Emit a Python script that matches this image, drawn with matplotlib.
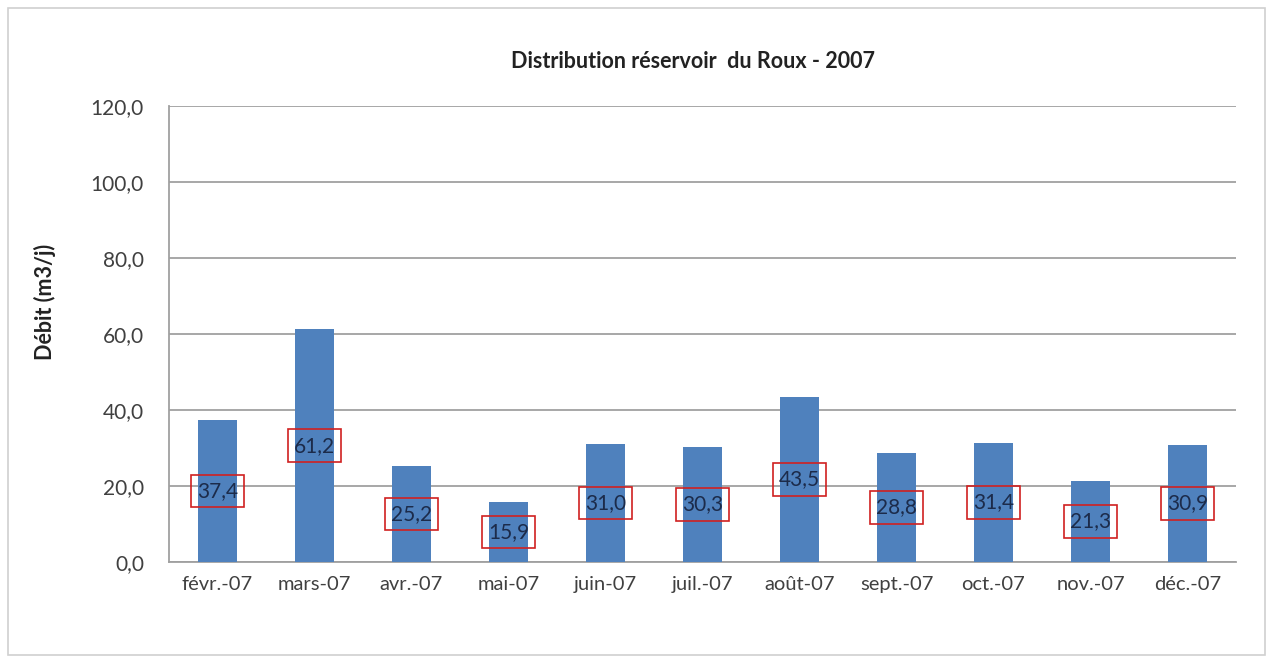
#!/usr/bin/env python3

import matplotlib.pyplot as plt
from matplotlib.patches import Rectangle


MONTHS = ["févr.-07", "mars-07", "avr.-07", "mai-07", "juin-07", "juil.-07",
          "août-07", "sept.-07", "oct.-07", "nov.-07", "déc.-07"]
DEBIT = [37.4, 61.2, 25.2, 15.9, 31.0, 30.3, 43.5, 28.8, 31.4, 21.3, 30.9]
Y_TICKS = [0, 20, 40, 60, 80, 100, 120]

TITLE = "Distribution réservoir  du Roux - 2007"
Y_LABEL = "Débit (m3/j)"


def fmt(v):
    return f"{v:.1f}".replace(".", ",")


def main():
    plt.rcParams["font.family"] = ["Lato", "DejaVu Sans"]

    fig = plt.figure(figsize=(12.71, 6.59), dpi=100)
    fig.patches.append(Rectangle((8 / 1271, 4 / 659), 1257 / 1271, 647 / 659,
                                 transform=fig.transFigure, fill=False,
                                 edgecolor="#d0d0d0", linewidth=1.2))

    ax = fig.add_axes([169 / 1271, 97 / 659, 1067 / 1271, 456 / 659])
    x = list(range(len(MONTHS)))
    ax.bar(x, DEBIT, width=0.4, color="#4f81bd", zorder=3)

    for i, v in zip(x, DEBIT):
        ax.text(i, v / 2, fmt(v), ha="center", va="center", fontsize=15,
                color="#1c2b4a", zorder=4,
                bbox=dict(boxstyle="square,pad=0.3", fill=False,
                          edgecolor="#d02020", linewidth=1.2))

    ax.set_xlim(-0.5, len(MONTHS) - 0.5)
    ax.set_ylim(0, 120)
    ax.set_yticks(Y_TICKS)
    ax.set_yticklabels([fmt(t) for t in Y_TICKS])
    ax.set_xticks(x)
    ax.set_xticklabels(MONTHS)
    ax.tick_params(length=0, labelcolor="#404040")
    ax.tick_params(axis="y", pad=18, labelsize=15)
    ax.tick_params(axis="x", pad=10, labelsize=14.5)

    ax.grid(axis="y", color="#a0a0a0", linewidth=1.3, zorder=0)
    for side in ["top", "right"]:
        ax.spines[side].set_visible(False)
    for side in ["left", "bottom"]:
        ax.spines[side].set_color("#a0a0a0")
        ax.spines[side].set_linewidth(1.3)

    fig.text(45 / 1271, 1 - 302 / 659, Y_LABEL, rotation=90, ha="center",
             va="center", fontsize=15.5, fontweight="bold", color="#222222")
    fig.text(693 / 1271, 1 - 62 / 659, TITLE, ha="center", va="center",
             fontsize=15.5, fontweight="bold", color="#222222")

    fig.savefig("out.png", dpi=100)


if __name__ == "__main__":
    main()
